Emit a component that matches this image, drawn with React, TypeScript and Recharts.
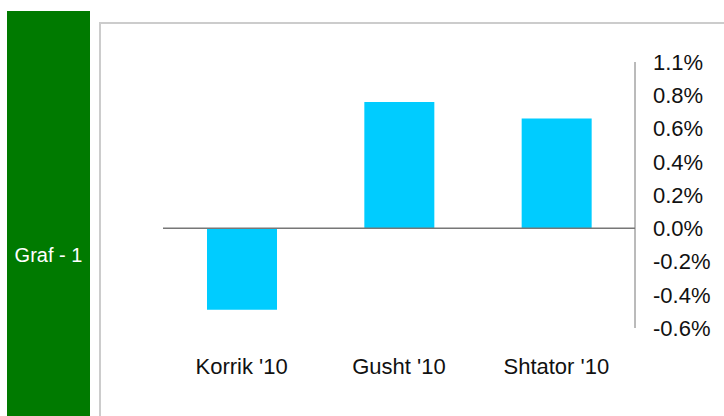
import React from "react";
import { BarChart, Bar, XAxis, YAxis, ReferenceLine } from "recharts";

const categories = ["Korrik '10", "Gusht '10", "Shtator '10"];
const values = [-0.49, 0.76, 0.66];
const tickValues = [-0.6, -0.4, -0.2, 0.0, 0.2, 0.4, 0.6, 0.8, 1.0];
const tickLabels = ["-0.6%", "-0.4%", "-0.2%", "0.0%", "0.2%", "0.4%", "0.6%", "0.8%", "1.1%"];
const sideLabel = "Graf - 1";

const data = categories.map((name, i) => ({ name, value: values[i] }));

const FONT = "'Liberation Sans', Arial, sans-serif";

export default function App() {
  return (
    <div style={{ position: "absolute", left: 0, top: 0, width: 724, height: 416, overflow: "hidden", background: "#fff" }}>
      <div
        style={{
          position: "absolute",
          left: 7,
          top: 11,
          width: 83,
          height: 420,
          background: "#007A00",
        }}
      >
        <div
          style={{
            position: "absolute",
            top: 232,
            width: "100%",
            textAlign: "center",
            color: "#fff",
            fontFamily: FONT,
            fontSize: 20,
            lineHeight: "24px",
          }}
        >
          {sideLabel}
        </div>
      </div>
      <div
        style={{
          position: "absolute",
          left: 99,
          top: 22,
          width: 660,
          height: 420,
          border: "2px solid #cccccc",
          boxSizing: "border-box",
        }}
      />
      <div style={{ position: "absolute", left: 0, top: 0 }}>
        <BarChart
          width={724}
          height={416}
          data={data}
          margin={{ top: 62, right: 9, bottom: 48, left: 163 }}
        >
          <XAxis
            dataKey="name"
            axisLine={false}
            tickLine={false}
            height={40}
            tickSize={0}
            tickMargin={30}
            tick={{ fill: "#111", fontSize: 22, fontFamily: FONT }}
            interval={0}
          />
          <YAxis
            orientation="right"
            width={80}
            domain={[-0.6, 1.0]}
            ticks={tickValues}
            interval={0}
            axisLine={{ stroke: "#777" }}
            tickLine={false}
            tickSize={0}
            tickMargin={18}
            tick={{ fill: "#111", fontSize: 22, fontFamily: FONT, textAnchor: "start" }}
            tickFormatter={(v: number) => {
              const idx = tickValues.findIndex((t) => Math.abs(t - v) < 1e-9);
              return idx >= 0 ? tickLabels[idx] : "";
            }}
          />
          <ReferenceLine y={0} stroke="#777" strokeWidth={1.5} />
          <Bar dataKey="value" fill="#00CCFF" barSize={70} isAnimationActive={false} />
        </BarChart>
      </div>
    </div>
  );
}
